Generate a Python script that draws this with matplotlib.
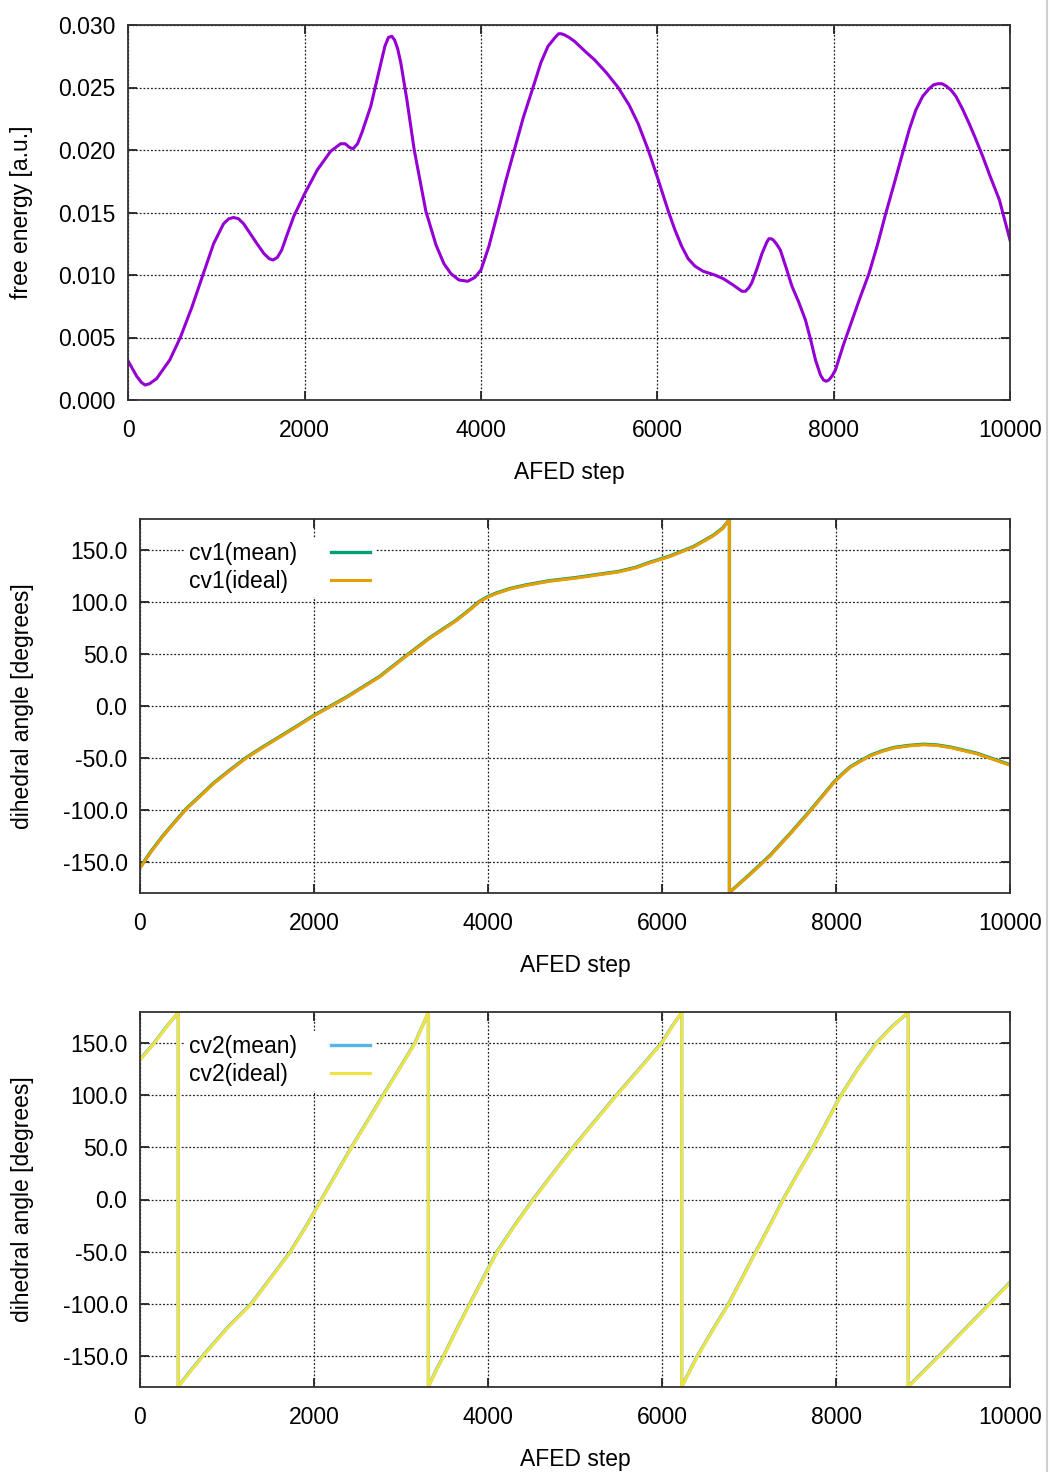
import matplotlib
matplotlib.use('Agg')
import matplotlib.pyplot as plt
from matplotlib.ticker import FuncFormatter
from matplotlib.lines import Line2D

plt.rcParams['font.family'] = ['Liberation Sans', 'DejaVu Sans']
plt.rcParams['font.size'] = 16.5

# free energy profile
fe_step = [
    0, 95, 150, 190, 240, 320, 470, 590, 720, 846,
    967, 1080, 1140, 1195, 1250, 1308, 1460, 1540, 1600, 1640,
    1690, 1740, 1800, 1877, 2000, 2143, 2295, 2408, 2460, 2510,
    2550, 2600, 2650, 2750, 2864, 2910, 2950, 2989, 3020, 3055,
    3090, 3160, 3243, 3310, 3375, 3490, 3580, 3660, 3750, 3850,
    3930, 4000, 4090, 4190, 4280, 4378, 4480, 4590, 4680, 4760,
    4840, 4880, 4911, 4950, 5000, 5060, 5180, 5290, 5420, 5556,
    5680, 5783, 5897, 6011, 6125, 6200, 6276, 6350, 6428, 6520,
    6652, 6750, 6860, 6959, 7000, 7040, 7073, 7130, 7186, 7240,
    7265, 7290, 7315, 7350, 7395, 7460, 7527, 7600, 7680, 7740,
    7794, 7850, 7885, 7915, 7945, 7980, 8020, 8110, 8210, 8300,
    8400, 8500, 8590, 8690, 8780, 8860, 8932, 9010, 9083, 9130,
    9180, 9230, 9280, 9330, 9386, 9460, 9538, 9610, 9690, 9780,
    9880, 10000]
fe_val = [
    0.0031, 0.0019, 0.0014, 0.0012, 0.0013, 0.0017, 0.0032, 0.0050, 0.0074, 0.0100,
    0.0125, 0.0141, 0.0145, 0.0146, 0.0145, 0.0141, 0.0125, 0.0117, 0.0113, 0.0112,
    0.0114, 0.0120, 0.0132, 0.0147, 0.0165, 0.0184, 0.0199, 0.0205, 0.0205, 0.0202,
    0.0201, 0.0205, 0.0214, 0.0235, 0.0269, 0.0283, 0.0290, 0.0291, 0.0288, 0.0281,
    0.0270, 0.0240, 0.0200, 0.0175, 0.0151, 0.0124, 0.0109, 0.0101, 0.0096, 0.0095,
    0.0098, 0.0104, 0.0123, 0.0150, 0.0175, 0.0200, 0.0226, 0.0250, 0.0270, 0.0283,
    0.0290, 0.0293, 0.0293, 0.0292, 0.0290, 0.0287, 0.0279, 0.0272, 0.0262, 0.0250,
    0.0236, 0.0221, 0.0200, 0.0176, 0.0151, 0.0136, 0.0123, 0.0113, 0.0107, 0.0103,
    0.0100, 0.0097, 0.0092, 0.0087, 0.0087, 0.0090, 0.0094, 0.0105, 0.0117, 0.0126,
    0.0129, 0.0129, 0.0128, 0.0125, 0.0120, 0.0106, 0.0091, 0.0079, 0.0064, 0.0048,
    0.0032, 0.0020, 0.0016, 0.0015, 0.0016, 0.0019, 0.0024, 0.0044, 0.0064, 0.0082,
    0.0101, 0.0125, 0.0149, 0.0174, 0.0197, 0.0217, 0.0232, 0.0243, 0.0249, 0.0252,
    0.0253, 0.0253, 0.0251, 0.0248, 0.0243, 0.0233, 0.0221, 0.0209, 0.0195, 0.0178,
    0.0160, 0.0128]

# cv1
cv1_step = [0, 130, 267, 400, 535, 690, 841, 1020, 1223, 1410, 1606, 1800,
            2008, 2371, 2755, 3060, 3327, 3633, 3770, 3897, 3990, 4088,
            4250, 4432, 4700, 5000, 5250, 5500, 5700, 5866, 6095, 6363, 6593, 6700, 6775,
            6775, 7015, 7245, 7475, 7705, 7973, 8070, 8165, 8280, 8394, 8520, 8662, 8830,
            9007, 9160, 9314, 9620, 10000]
cv1_mean = [-155.5, -139.5, -124.5, -111.5, -98.5, -86.5, -74.5, -62.5, -49.5, -39.5, -29.5, -19.5,
            -8.5, 8.5, 28.5, 48.5, 65.5, 82.5, 91.5, 100.5, 105.0, 108.5,
            113.0, 116.5, 120.5, 123.5, 126.5, 129.5, 133.5, 138.5, 144.5, 153.5, 164.5, 171.5, 179.5,
            -179.5, -161.5, -143.5, -122.5, -100.5, -73.5, -65.5, -58.5, -52.8, -47.5, -43.5, -40.0,
            -38.0, -36.8, -37.5, -39.5, -45.5, -56.5]
cv1_ideal = [-156.0, -140.0, -125.0, -112.0, -99.0, -87.0, -75.0, -63.0, -50.0, -40.0, -30.0, -20.0,
             -9.0, 8.0, 28.0, 48.0, 65.0, 82.0, 91.0, 100.0, 104.5, 108.0,
             112.5, 116.0, 120.0, 123.0, 126.0, 129.0, 133.0, 138.0, 144.0, 153.0, 164.0, 171.0, 179.5,
             -179.5, -162.0, -144.0, -123.0, -101.0, -74.0, -66.0, -59.0, -53.3, -48.0, -44.0, -40.5,
             -38.5, -37.3, -38.0, -40.0, -46.0, -57.0]

# cv2
cv2_step = [0, 165, 300, 440,
            440, 580, 727, 1000, 1283, 1500, 1724, 1910, 2088, 2260, 2432, 2615, 2796, 2980, 3161, 3240, 3315,
            3315, 3400, 3487, 3640, 3793, 3950, 4100, 4300, 4521, 4750, 4981, 5230, 5479, 5740, 5996, 6110, 6226,
            6226, 6398, 6580, 6762, 6920, 7069, 7235, 7395, 7570, 7739, 7900, 8046, 8250, 8467, 8650, 8831,
            8831, 9190, 9480, 9770, 10000]
cv2_mean = [134.5, 150.5, 165.5, 179.5,
            -179.5, -164.5, -149.5, -123.5, -99.5, -75.5, -50.5, -25.5, 0.5, 25.5, 50.5, 75.5, 100.5, 125.5,
            150.5, 165.5, 179.5,
            -179.5, -164.5, -150.5, -124.5, -99.5, -74.5, -50.5, -25.5, 0.5, 25.5, 50.5, 75.5, 100.5, 125.5,
            150.5, 165.5, 179.5,
            -179.5, -151.5, -125.5, -100.5, -75.5, -51.5, -25.5, 0.5, 26.5, 50.5, 75.5, 98.5, 125.5, 150.5,
            166.5, 179.5,
            -179.5, -149.5, -124.5, -99.5, -79.5]
cv2_ideal = [134, 150, 165, 180,
             -180, -165, -150, -124, -100, -76, -51, -26, 0, 25, 50, 75, 100, 125, 150, 165, 180,
             -180, -165, -151, -125, -100, -75, -51, -26, 0, 25, 50, 75, 100, 125, 150, 165, 180,
             -180, -152, -126, -101, -76, -52, -26, 0, 26, 50, 75, 98, 125, 150, 166, 180,
             -180, -150, -125, -100, -80]

xticks = [0, 2000, 4000, 6000, 8000, 10000]
fe_ticks = [0.0, 0.005, 0.010, 0.015, 0.020, 0.025, 0.030]
ang_ticks = [-150, -100, -50, 0, 50, 100, 150]

W, H = 1051, 1472
fig = plt.figure(figsize=(W / 100, H / 100), dpi=100)


def box(l, t, r, b):
    return [l / W, 1 - b / H, (r - l) / W, (b - t) / H]


ax1 = fig.add_axes(box(128.3, 25, 1010, 400))
ax2 = fig.add_axes(box(140, 519, 1010, 893))
ax3 = fig.add_axes(box(140, 1012, 1010, 1387))


def style(ax):
    ax.set_xlim(0, 10000)
    ax.set_xticks(xticks)
    ax.tick_params(direction='in', length=6.5, width=1.3, top=True, right=True,
                   labelsize=16.5, colors='#222222', labelcolor='black')
    ax.tick_params(axis='x', pad=13.5)
    ax.tick_params(axis='y', pad=9)
    ax.grid(True, color='#222222', linestyle=(0, (1.5, 1.5)), linewidth=0.9)
    ax.set_axisbelow(True)
    for s in ax.spines.values():
        s.set_linewidth(1.3)
        s.set_color('#333333')
    ax.set_xlabel('AFED step', fontsize=16.5)
    ax.xaxis.set_label_coords(0.5, -0.163)


# top
ax1.plot(fe_step, fe_val, color='#9400D3', lw=2.2)
style(ax1)
ax1.set_ylim(0, 0.030)
ax1.set_yticks(fe_ticks)
ax1.yaxis.set_major_formatter(FuncFormatter(lambda v, p: f'{v:.3f}'))
ax1.set_ylabel('free energy [a.u.]', fontsize=16.5)
ax1.yaxis.set_label_coords(-0.108, 0.5)

# middle
ax2.plot(cv1_step, cv1_mean, color='#009E73', lw=2.4, label='cv1(mean)')
ax2.plot(cv1_step, cv1_ideal, color='#E69F00', lw=2.2, label='cv1(ideal)')

# bottom
ax3.plot(cv2_step, cv2_mean, color='#56B4E9', lw=2.4, label='cv2(mean)')
ax3.plot(cv2_step, cv2_ideal, color='#F0E442', lw=2.2, label='cv2(ideal)')

legs = []
for ax in (ax2, ax3):
    style(ax)
    ax.set_ylim(-180, 180)
    ax.set_yticks(ang_ticks)
    ax.yaxis.set_major_formatter(FuncFormatter(lambda v, p: f'{v:.1f}'))
    ax.set_ylabel('dihedral angle [degrees]', fontsize=16.5)
    ax.yaxis.set_label_coords(-0.122, 0.5)
    leg = ax.legend(loc='upper left', bbox_to_anchor=(0.051, 0.95), markerfirst=False,
                    frameon=True, fancybox=False, edgecolor='none', facecolor='white',
                    framealpha=1, handlelength=1.7, handletextpad=1.5, labelspacing=0.2,
                    borderpad=0.2, borderaxespad=0, fontsize=16.5)
    leg.set_zorder(5)
    legs.append(leg)

# gnuplot style key: texts left aligned, samples in one column
fig.canvas.draw()
r = fig.canvas.get_renderer()
for leg in legs:
    for col in leg._legend_handle_box.get_children():
        rows = col.get_children()
        ws = [row.get_children()[0].get_window_extent(r).width for row in rows]
        for row, w in zip(rows, ws):
            row.sep = row.sep + (max(ws) - w) * 72 / fig.dpi

# page edge line on the right
fig.add_artist(Line2D([1047 / W, 1047 / W], [0, 1], color='#cfcfcf', lw=1.5))

fig.savefig('out.png', dpi=100)
